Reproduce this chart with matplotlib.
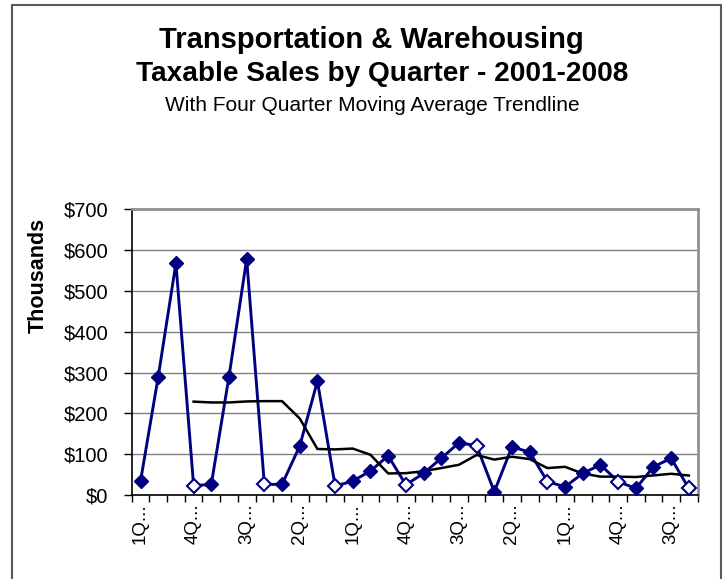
import matplotlib
matplotlib.use("Agg")
import matplotlib.pyplot as plt
import numpy as np
import pandas as pd
from matplotlib.patches import Rectangle
from matplotlib.ticker import FixedLocator, FuncFormatter

plt.rcParams['font.family'] = ['Liberation Sans', 'DejaVu Sans']

# Quarterly taxable sales, thousands of dollars, 1Q 2001 - 4Q 2008
years = list(range(2001, 2009))
quarter_nums = [1, 2, 3, 4]
quarters = [f"{q}Q {y}" for y in years for q in quarter_nums]
sales = [34, 290, 568, 23, 26, 290, 578, 26,
         26, 120, 279, 22, 34, 59, 96, 25,
         53, 90, 128, 121, 8, 118, 105, 33,
         20, 53, 74, 33, 16, 69, 90, 16]
label_step = 3
y_ticks = [0, 100, 200, 300, 400, 500, 600, 700]

W, H = 726, 579
fig = plt.figure(figsize=(W / 100, H / 100), dpi=100)

# outer chart frame
fig.patches.append(Rectangle((12 / W, -0.05), (721 - 12) / W, 1.05 - 5 / H,
                             transform=fig.transFigure, fill=False,
                             edgecolor='#5a5a5a', lw=1.5))

ax = fig.add_axes([131.7 / W, 1 - 495 / H, 566 / W, 285.7 / H])

x = np.arange(len(sales))
vals = np.array(sales, dtype=float)
is_q4 = np.array([q.startswith("4Q") for q in quarters])
moving_avg = pd.Series(vals).rolling(4).mean()

navy = '#000080'
ax.plot(x, vals, color=navy, lw=2.1, zorder=3)
ax.plot(x[~is_q4], vals[~is_q4], ls='none', marker='D', ms=7.2,
        mfc=navy, mec=navy, zorder=4)
ax.plot(x[is_q4], vals[is_q4], ls='none', marker='D', ms=6.8,
        mfc='white', mec=navy, mew=1.5, zorder=4)
ax.plot(x, moving_avg, color='black', lw=1.8, zorder=3.5)

ax.set_xlim(-0.5, len(sales) - 0.5)
ax.set_ylim(0, 700)

ax.yaxis.set_major_locator(FixedLocator(y_ticks))
ax.yaxis.set_major_formatter(FuncFormatter(lambda v, p: f"${v:,.0f}"))
ax.grid(axis='y', color='#808080', lw=1, zorder=0)
ax.set_axisbelow(True)

ax.set_xticks(x[::label_step])
ax.set_xticklabels([quarters[i][:2] + "..." for i in x[::label_step]],
                   rotation=90, fontsize=13.5)
ax.set_xticks(np.arange(-0.5, len(sales), 1), minor=True)
ax.tick_params(axis='x', which='major', length=0, pad=6)
ax.tick_params(axis='x', which='minor', length=5, width=1, color='black')
ax.tick_params(axis='y', which='major', length=6, width=1, color='black',
               labelsize=14.5, pad=11)

for side in ('left', 'bottom'):
    ax.spines[side].set_color('black')
    ax.spines[side].set_linewidth(1.2)
for side in ('top', 'right'):
    ax.spines[side].set_color('#909090')
    ax.spines[side].set_linewidth(2)

fig.text(38 / W, 1 - 275 / H, "Thousands", rotation=90, fontsize=15.5,
         fontweight='bold', ha='center', va='center')

fig.text(371 / W, 1 - 47.7 / H, "Transportation & Warehousing", fontsize=21,
         fontweight='bold', ha='center', va='baseline')
fig.text(382 / W, 1 - 80.7 / H, "Taxable Sales by Quarter - 2001-2008",
         fontsize=20.2, fontweight='bold', ha='center', va='baseline')
fig.text(372 / W, 1 - 111 / H, "With Four Quarter Moving Average Trendline",
         fontsize=15, ha='center', va='baseline')

fig.savefig("out.png", dpi=100)
